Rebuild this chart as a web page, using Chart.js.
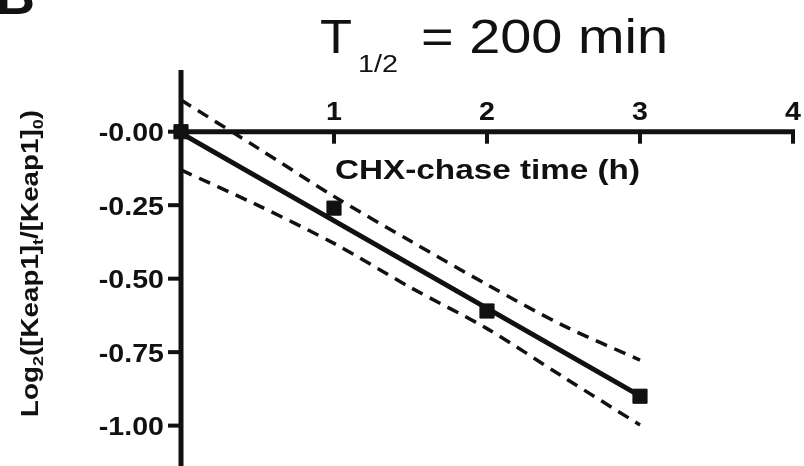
<!DOCTYPE html>
<html>
<head>
<meta charset="utf-8">
<script src="https://cdn.jsdelivr.net/npm/chart.js@4"></script>
<style>
  html, body { margin: 0; padding: 0; background: #fff; }
  canvas { display: block; }
</style>
</head>
<body>
<canvas id="chart" width="804" height="466"></canvas>
<script>
// === datos ===
const chaseTime = [0, 1, 2, 3];
const keapLog = [0, -0.26, -0.61, -0.90];

const fitTime = [0, 3];
const fitLog = [-0.005, -0.899];

const bandTime = [0, 0.5, 1, 1.5, 2, 2.5, 3];
const bandUpper = [0.108, -0.055, -0.22, -0.372, -0.52, -0.66, -0.777];
const bandLower = [-0.13, -0.25, -0.38, -0.53, -0.67, -0.835, -0.998];

const xTicks = [1, 2, 3, 4];
const xTickLabels = ['1', '2', '3', '4'];
const yTicks = [0, -0.25, -0.5, -0.75, -1];
const yTickLabels = ['-0.00', '-0.25', '-0.50', '-0.75', '-1.00'];

const FONT = '"Liberation Sans", Arial, sans-serif';
const INK = '#111';

function pts(xs, ys) {
  return xs.map((x, i) => ({ x: x, y: ys[i] }));
}

// texto ajustado a un ancho dado (la figura esta algo estirada en horizontal)
function fitText(ctx, txt, x, y, w, font) {
  ctx.font = font;
  const m = ctx.measureText(txt).width;
  ctx.save();
  ctx.translate(x, y);
  ctx.scale(w / m, 1);
  ctx.textAlign = 'left';
  ctx.fillText(txt, 0, 0);
  ctx.restore();
}

// === ejes y textos dibujados con las escalas del grafico ===
const axesPlugin = {
  id: 'axesPlugin',
  beforeDatasetsDraw(chart) {
    const ctx = chart.ctx;
    const xs = chart.scales.x, ys = chart.scales.y;
    const x0 = xs.getPixelForValue(0);
    const y0 = ys.getPixelForValue(0);
    ctx.save();
    ctx.strokeStyle = INK;
    ctx.fillStyle = INK;
    ctx.lineWidth = 5;
    ctx.lineCap = 'butt';

    // eje y
    ctx.beginPath();
    ctx.moveTo(x0, chart.chartArea.top);
    ctx.lineTo(x0, chart.height);
    ctx.stroke();
    ctx.lineWidth = 4;
    yTicks.forEach(v => {
      const y = ys.getPixelForValue(v);
      ctx.beginPath();
      ctx.moveTo(x0 - 13, y);
      ctx.lineTo(x0, y);
      ctx.stroke();
    });

    // eje x en y = 0
    ctx.lineWidth = 5;
    ctx.beginPath();
    ctx.moveTo(x0, y0);
    ctx.lineTo(xs.getPixelForValue(4) + 2, y0);
    ctx.stroke();
    ctx.lineWidth = 4;
    xTicks.forEach(v => {
      const x = xs.getPixelForValue(v);
      ctx.beginPath();
      ctx.moveTo(x, y0);
      ctx.lineTo(x, y0 + 12);
      ctx.stroke();
    });

    // etiquetas de ticks
    ctx.font = 'bold 26px ' + FONT;
    ctx.textBaseline = 'alphabetic';
    yTicks.forEach((v, i) => {
      const y = ys.getPixelForValue(v);
      ctx.save();
      ctx.translate(x0 - 17, y + 9.5);
      ctx.scale(1.1, 1);
      ctx.textAlign = 'right';
      ctx.fillText(yTickLabels[i], 0, 0);
      ctx.restore();
    });
    xTicks.forEach((v, i) => {
      const x = xs.getPixelForValue(v);
      ctx.save();
      ctx.translate(x, y0 - 12);
      ctx.scale(1.1, 1);
      ctx.textAlign = 'center';
      ctx.fillText(xTickLabels[i], 0, 0);
      ctx.restore();
    });

    // titulo T1/2 = 200 min
    fitText(ctx, 'T', 320, 53, 32, '48px ' + FONT);
    fitText(ctx, '1/2', 358, 72, 40, '23px ' + FONT);
    fitText(ctx, '= 200 min', 421, 53, 247, '48px ' + FONT);

    // titulo eje x
    fitText(ctx, 'CHX-chase time (h)', 335, 179, 305, 'bold 27px ' + FONT);

    // titulo eje y con subindices, girado
    const parts = [
      ['Log', false], ['2', true], ['([Keap1]', false], ['t', true],
      ['/[Keap1]', false], ['0', true], [')', false]
    ];
    const big = 'bold 23px ' + FONT, small = 'bold 15px ' + FONT;
    let total = 0;
    parts.forEach(p => { ctx.font = p[1] ? small : big; total += ctx.measureText(p[0]).width; });
    ctx.save();
    ctx.translate(38, 417);
    ctx.rotate(-Math.PI / 2);
    ctx.scale(307 / total, 1);
    ctx.textAlign = 'left';
    let cx = 0;
    parts.forEach(p => {
      ctx.font = p[1] ? small : big;
      ctx.fillText(p[0], cx, p[1] ? 5 : 0);
      cx += ctx.measureText(p[0]).width;
    });
    ctx.restore();

    // letra del panel, cortada arriba
    ctx.font = 'bold 54px ' + FONT;
    ctx.textAlign = 'left';
    ctx.fillText('B', -4, 14);

    ctx.restore();
  }
};

new Chart(document.getElementById('chart'), {
  type: 'scatter',
  data: {
    datasets: [
      {
        label: 'Keap1',
        data: pts(chaseTime, keapLog),
        pointStyle: 'rect',
        pointRadius: 10,
        backgroundColor: INK,
        borderColor: INK,
        showLine: false,
        clip: false
      },
      {
        label: 'ajuste',
        data: pts(fitTime, fitLog),
        showLine: true,
        borderColor: INK,
        borderWidth: 5,
        pointRadius: 0,
        clip: false
      },
      {
        label: 'IC sup',
        data: pts(bandTime, bandUpper),
        showLine: true,
        borderColor: INK,
        borderWidth: 3.5,
        borderDash: [12, 8],
        tension: 0.3,
        pointRadius: 0,
        clip: false
      },
      {
        label: 'IC inf',
        data: pts(bandTime, bandLower),
        showLine: true,
        borderColor: INK,
        borderWidth: 3.5,
        borderDash: [12, 8],
        tension: 0.3,
        pointRadius: 0,
        clip: false
      }
    ]
  },
  options: {
    responsive: false,
    animation: false,
    devicePixelRatio: 1,
    layout: { padding: { left: 181, right: 9, top: 70, bottom: 0 } },
    scales: {
      x: { type: 'linear', min: 0, max: 4, display: false },
      y: { type: 'linear', min: -1.1, max: 0.21, display: false }
    },
    plugins: {
      legend: { display: false },
      tooltip: { enabled: false },
      title: { display: false }
    }
  },
  plugins: [axesPlugin]
});
</script>
</body>
</html>
